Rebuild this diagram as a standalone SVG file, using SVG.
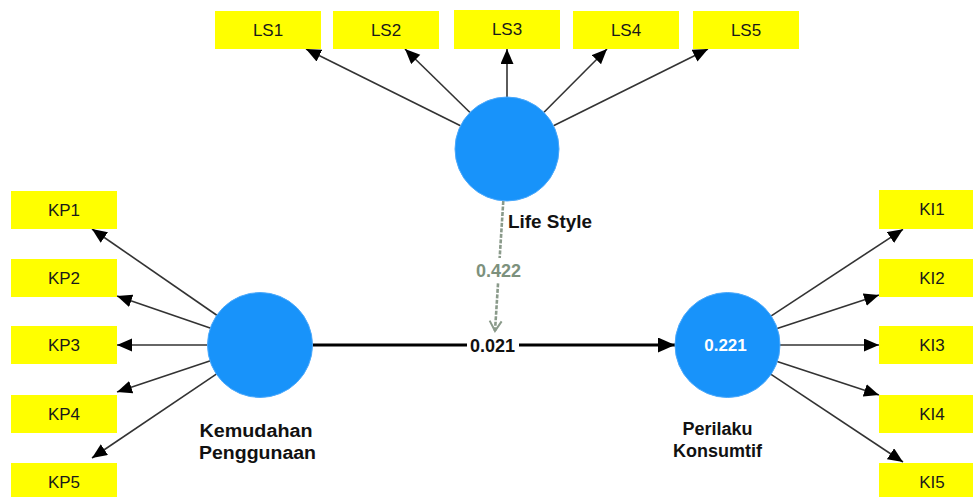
<svg xmlns="http://www.w3.org/2000/svg" width="973" height="497" viewBox="0 0 973 497">
<style>
.ind rect{fill:#ffff00}
.ind text{font-family:"Liberation Sans",Arial,sans-serif;font-size:17px;fill:#1a1a1a;text-anchor:middle}
.lat circle{fill:#1893fa;stroke:#4aa8fb;stroke-width:1}
.lbl{font-family:"Liberation Sans",Arial,sans-serif;font-size:18px;font-weight:bold;fill:#111}
.thin{stroke:#333;stroke-width:1.6;fill:none;marker-end:url(#ah)}
</style>
<defs>
<marker id="ah" markerUnits="userSpaceOnUse" markerWidth="16" markerHeight="14" refX="15" refY="6.5" orient="auto">
<path d="M0,0 L15,6.5 L0,13 z" fill="#000"/>
</marker>
<marker id="ahBig" markerUnits="userSpaceOnUse" markerWidth="18" markerHeight="16" refX="17" refY="7.5" orient="auto">
<path d="M0,0 L17,7.5 L0,15 z" fill="#000"/>
</marker>
<marker id="ahOpen" markerUnits="userSpaceOnUse" markerWidth="14" markerHeight="16" refX="11" refY="7" orient="auto">
<path d="M1,1 L11,7 L1,13" fill="none" stroke="#8a9a8a" stroke-width="2"/>
</marker>
</defs>
<g id="connectors">
<line class="thin" x1="460.5" y1="125.8" x2="306" y2="49"/>
<line class="thin" x1="470" y1="112.5" x2="405" y2="49"/>
<line class="thin" x1="507" y1="97" x2="507" y2="49"/>
<line class="thin" x1="544" y1="112.2" x2="607" y2="49"/>
<line class="thin" x1="553.5" y1="125.8" x2="708" y2="49"/>
<line class="thin" x1="217.2" y1="315.5" x2="92" y2="229"/>
<line class="thin" x1="210.8" y1="328.2" x2="117" y2="296"/>
<line class="thin" x1="208" y1="345" x2="117" y2="345"/>
<line class="thin" x1="210.4" y1="360.7" x2="117" y2="392"/>
<line class="thin" x1="216.7" y1="373.9" x2="92" y2="458"/>
<line class="thin" x1="770.5" y1="316.4" x2="903" y2="229.3"/>
<line class="thin" x1="776.4" y1="328.8" x2="879" y2="295"/>
<line class="thin" x1="779" y1="345" x2="879" y2="345"/>
<line class="thin" x1="776.4" y1="361.2" x2="879" y2="395"/>
<line class="thin" x1="770.3" y1="373.8" x2="903" y2="462"/>
<line x1="312" y1="345" x2="675" y2="345" stroke="#000" stroke-width="3" marker-end="url(#ahBig)"/>
<rect x="467" y="336" width="52" height="19" fill="#fff"/>
<text class="lbl" x="492.5" y="351.5" text-anchor="middle">0.021</text>
<line x1="503.3" y1="201" x2="495" y2="331" stroke="#8a9a8a" stroke-width="2.6" stroke-dasharray="4 1.5" marker-end="url(#ahOpen)"/>
<rect x="472" y="258" width="53" height="24" fill="#fff"/>
<text class="lbl" x="498.5" y="276.5" text-anchor="middle" style="fill:#7d917d">0.422</text>
</g>
<g id="LS1" class="ind"><rect x="215" y="11" width="106" height="38"/><text x="268" y="36">LS1</text></g>
<g id="LS2" class="ind"><rect x="333" y="11" width="106" height="38"/><text x="386" y="36">LS2</text></g>
<g id="LS3" class="ind"><rect x="454" y="10" width="106" height="39"/><text x="507" y="35">LS3</text></g>
<g id="LS4" class="ind"><rect x="573" y="11" width="106" height="38"/><text x="626" y="36">LS4</text></g>
<g id="LS5" class="ind"><rect x="693" y="11" width="106" height="38"/><text x="746" y="36">LS5</text></g>
<g id="KP1" class="ind"><rect x="11" y="191" width="106" height="38"/><text x="64" y="216">KP1</text></g>
<g id="KP2" class="ind"><rect x="11" y="259" width="106" height="38"/><text x="64" y="284">KP2</text></g>
<g id="KP3" class="ind"><rect x="11" y="326" width="106" height="38"/><text x="64" y="351">KP3</text></g>
<g id="KP4" class="ind"><rect x="11" y="395" width="106" height="38"/><text x="64" y="420">KP4</text></g>
<g id="KP5" class="ind"><rect x="11" y="463" width="106" height="38"/><text x="64" y="488">KP5</text></g>
<g id="KI1" class="ind"><rect x="879" y="190" width="106" height="39"/><text x="932" y="215">KI1</text></g>
<g id="KI2" class="ind"><rect x="879" y="259" width="106" height="38"/><text x="932" y="284">KI2</text></g>
<g id="KI3" class="ind"><rect x="879" y="326" width="106" height="38"/><text x="932" y="351">KI3</text></g>
<g id="KI4" class="ind"><rect x="879" y="395" width="106" height="38"/><text x="932" y="420">KI4</text></g>
<g id="KI5" class="ind"><rect x="879" y="463" width="106" height="38"/><text x="932" y="488">KI5</text></g>
<g id="LifeStyle" class="lat"><circle cx="507" cy="149" r="52"/><text class="lbl" x="508" y="227.5" textLength="84" lengthAdjust="spacingAndGlyphs">Life Style</text></g>
<g id="KemudahanPenggunaan" class="lat"><circle cx="260" cy="345" r="52.5"/><text class="lbl" x="256" y="436.5" text-anchor="middle" textLength="113" lengthAdjust="spacingAndGlyphs">Kemudahan</text><text class="lbl" x="257.5" y="458.5" text-anchor="middle" textLength="117" lengthAdjust="spacingAndGlyphs">Penggunaan</text></g>
<g id="PerilakuKonsumtif" class="lat"><circle cx="727.5" cy="345" r="52.5"/><text class="lbl" x="725.5" y="351" text-anchor="middle" style="fill:#fff;font-size:17px">0.221</text><text class="lbl" x="717.5" y="435" text-anchor="middle">Perilaku</text><text class="lbl" x="717.5" y="457" text-anchor="middle">Konsumtif</text></g>
</svg>
